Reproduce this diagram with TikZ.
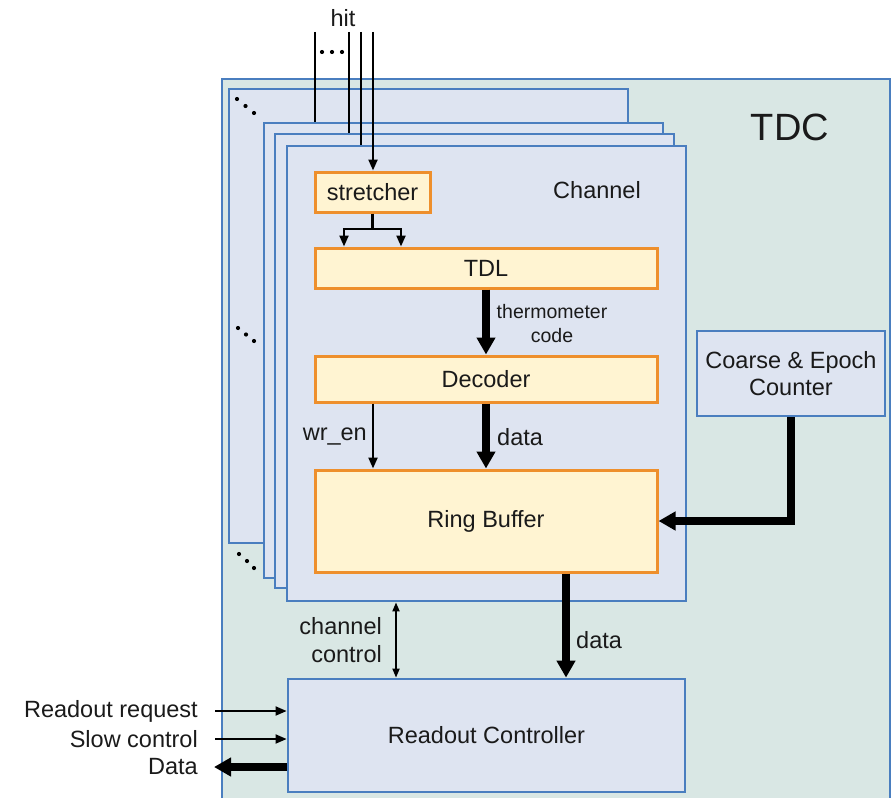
\documentclass[tikz,border=0pt]{standalone}
\usepackage{fontspec}
\setmainfont{Liberation Sans}
\usetikzlibrary{arrows.meta,calc}
\definecolor{tdcfill}{HTML}{D9E7E4}
\definecolor{chfill}{HTML}{DEE4F1}
\definecolor{bblue}{HTML}{4A7EBF}
\definecolor{oline}{HTML}{EE8F2C}
\definecolor{ofill}{HTML}{FFF4D2}
\definecolor{txt}{HTML}{1A1A1A}
\begin{document}
\begin{tikzpicture}[x=1pt,y=-1pt,
  font=\fontsize{23.5}{28}\selectfont, text=txt,
  chbox/.style={draw=bblue,fill=chfill,line width=2.8pt,inner sep=0pt},
  obox/.style={draw=oline,fill=ofill,line width=3pt,inner sep=0pt},
  thin/.style={line width=2.2pt,-{Triangle[length=11pt,width=9pt]}},
  thick/.style={line width=8pt,-{Triangle[length=17pt,width=18pt]}},
  dbl/.style={line width=1.8pt,{Triangle[length=9pt,width=7pt]}-{Triangle[length=9pt,width=7pt]}},
  lbl/.style={inner sep=0pt},
  dot/.style={fill=black}]
\useasboundingbox (0,0) rectangle (893,797);
\clip (0,0) rectangle (893,797);
% TDC outer box
\node[draw=bblue,fill=tdcfill,line width=2.8pt,minimum width=668pt,minimum height=740pt,inner sep=0pt] (tdc) at (556,449) {};
\node[lbl,font=\fontsize{38}{44}\selectfont] (tdcl) at (790,127) {TDC};
% channel stack
\node[chbox,minimum width=399pt,minimum height=454pt] (ch1) at (428.5,316) {};
\node[chbox,minimum width=399pt,minimum height=455pt] (ch2) at (463.5,350.5) {};
\node[chbox,minimum width=399pt,minimum height=454pt] (ch3) at (474.5,361) {};
\node[chbox,minimum width=399pt,minimum height=455pt] (ch4) at (486.5,373.5) {};
\node[lbl] (chl) at (597,190) {Channel};
% dots
\foreach \a/\b in {237/99,245.5/106,254/113,238/328,246/334.5,254/341,239/554,247/561,254/568}
  \fill[dot] (\a,\b) circle (2.1pt);
\foreach \a in {322,332,342}
  \fill[dot] (\a,52) circle (2.1pt);
% hit inputs
\node[lbl] (hit) at (343,18) {hit};
\coordinate (h1) at (315,32);
\coordinate (h2) at (349,32);
\coordinate (h3) at (361,32);
\coordinate (h4) at (373,32);
% inner blocks
\node[obox,minimum width=115pt,minimum height=40pt] (str) at (372.5,192) {stretcher};
\node[obox,minimum width=342pt,minimum height=40pt] (tdl) at (486,268) {TDL};
\node[obox,minimum width=342pt,minimum height=46pt] (dec) at (486,379) {Decoder};
\node[obox,minimum width=342pt,minimum height=102pt] (rb) at (486,521) {Ring Buffer};
\node[draw=bblue,fill=chfill,line width=2.8pt,minimum width=188pt,minimum height=85pt,inner sep=0pt,align=center,font=\fontsize{23.5}{27}\selectfont] (cnt) at (791,373.5) {Coarse \& Epoch\\Counter};
\node[draw=bblue,fill=chfill,line width=2.8pt,minimum width=397pt,minimum height=113pt,inner sep=0pt] (ro) at (486.5,735.5) {Readout Controller};
% hit lines
\draw[line width=2.2pt] (h1) -- (h1 |- ch2.north);
\draw[line width=2.2pt] (h2) -- (h2 |- ch3.north);
\draw[line width=2.2pt] (h3) -- (h3 |- ch4.north);
\draw[thin] (h4) -- (h4 |- str.north);
% stretcher branch
\coordinate (bl) at (344,229);
\coordinate (br) at (401,229);
\draw[line width=2.4pt] (str.south) -- (str.south |- bl);
\draw[line width=2.4pt] ([xshift=-1.1pt]bl) -- ([xshift=1.1pt]br);
\draw[thin] (bl) -- (bl |- tdl.north);
\draw[thin] (br) -- (br |- tdl.north);
% TDL -> decoder
\draw[thick] (tdl.south) -- (dec.north);
\node[lbl,align=center,font=\fontsize{19.5}{24}\selectfont] (therm) at (552,324) {thermometer\\code};
% decoder -> ring buffer
\coordinate (wx) at (373,0);
\draw[thin] (dec.south -| wx) -- (rb.north -| wx);
\node[lbl,anchor=east] (wren) at (367,437) {wr\textunderscore en};
\draw[thick] (dec.south) -- (rb.north);
\node[lbl,anchor=west] (d1) at (497,437) {data};
% counter -> ring buffer
\draw[thick,line join=miter] (cnt.south) |- (rb.east);
% ring buffer -> readout
\coordinate (dx) at (566,0);
\draw[thick] (rb.south -| dx) -- (ro.north -| dx);
\node[lbl,anchor=west] (d2) at (576,640) {data};
% channel control
\coordinate (cx) at (396,0);
\draw[dbl] (ch4.south -| cx) -- (ro.north -| cx);
\node[lbl,anchor=east,align=right] (cc) at (382,640) {channel\\control};
% left IO
\coordinate (ir) at (215,711);
\coordinate (is) at (215,739);
\coordinate (od) at (214,767);
\draw[thin,line width=1.8pt] (ir) -- (ro.west |- ir);
\draw[thin,line width=1.8pt] (is) -- (ro.west |- is);
\draw[thick] (ro.west |- od) -- (od);
\node[lbl,anchor=east] (lr) at (198,711) {Readout request};
\node[lbl,anchor=east] (ls) at (198,739) {Slow control};
\node[lbl,anchor=east] (ld) at (198,767) {Data};
\end{tikzpicture}
\end{document}
